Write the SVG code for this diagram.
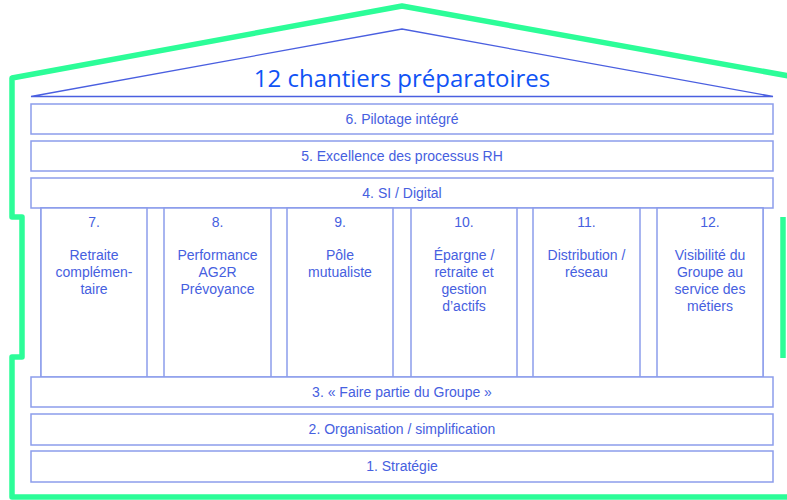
<svg xmlns="http://www.w3.org/2000/svg" width="787" height="500" viewBox="0 0 787 500">
<style>
.out{fill:none;stroke:#2CFD98;stroke-width:5.5;stroke-linejoin:round}
.roof{fill:none;stroke:#4A5FE0;stroke-width:1.3}
.bar{fill:#fff;stroke:#8C9DEB;stroke-width:1.5}
.t{font-family:"Liberation Sans",Arial,sans-serif;font-size:14px;fill:#4660E0;text-anchor:middle}
.title{font-family:"Open Sans","Noto Sans",sans-serif;font-size:24px;fill:#1053F5;text-anchor:middle}
</style>
<rect width="787" height="500" fill="#fff"/>
<g id="outline">
<path class="out" d="M800 78 L402 6 L12 78 L12 217 L22 217 L22 357 L12 357 L12 497 L800 497"/>
<path class="out" d="M783 217 L783 358"/>
</g>
<g id="roof">
<path class="roof" d="M31 96.5 L402 29 L773 96.5 Z"/>
<text class="title" x="402" y="87">12 chantiers préparatoires</text>
</g>
<g id="b6"><rect class="bar" x="31" y="104" width="742" height="30"/><text class="t" x="402" y="124">6. Pilotage  intégré</text></g>
<g id="b5"><rect class="bar" x="31" y="141" width="742" height="30"/><text class="t" x="402" y="161">5. Excellence des processus RH</text></g>
<g id="b4"><rect class="bar" x="31" y="178" width="742" height="30"/><text class="t" x="402" y="198">4. SI / Digital</text></g>
<g id="cols-frame"><rect class="bar" x="41" y="208" width="722" height="169"/></g>
<g id="c7"><rect class="bar" x="41" y="208" width="106" height="169"/>
<text class="t" x="94" y="227">7.</text>
<text class="t" x="94" y="260">Retraite</text><text class="t" x="94" y="277">complémen-</text><text class="t" x="94" y="294">taire</text></g>
<g id="c8"><rect class="bar" x="164" y="208" width="107" height="169"/>
<text class="t" x="217.5" y="227">8.</text>
<text class="t" x="217.5" y="260">Performance</text><text class="t" x="217.5" y="277">AG2R</text><text class="t" x="217.5" y="294">Prévoyance</text></g>
<g id="c9"><rect class="bar" x="287" y="208" width="106" height="169"/>
<text class="t" x="340" y="227">9.</text>
<text class="t" x="340" y="260">Pôle</text><text class="t" x="340" y="277">mutualiste</text></g>
<g id="c10"><rect class="bar" x="411" y="208" width="106" height="169"/>
<text class="t" x="464" y="227">10.</text>
<text class="t" x="464" y="260">Épargne /</text><text class="t" x="464" y="277">retraite et</text><text class="t" x="464" y="294">gestion</text><text class="t" x="464" y="311">d’actifs</text></g>
<g id="c11"><rect class="bar" x="533" y="208" width="107" height="169"/>
<text class="t" x="586.5" y="227">11.</text>
<text class="t" x="586.5" y="260">Distribution /</text><text class="t" x="586.5" y="277">réseau</text></g>
<g id="c12"><rect class="bar" x="657" y="208" width="106" height="169"/>
<text class="t" x="710" y="227">12.</text>
<text class="t" x="710" y="260">Visibilité  du</text><text class="t" x="710" y="277">Groupe au</text><text class="t" x="710" y="294">service des</text><text class="t" x="710" y="311">métiers</text></g>
<g id="b3"><rect class="bar" x="31" y="377" width="742" height="30"/><text class="t" x="402" y="397">3. « Faire partie du Groupe »</text></g>
<g id="b2"><rect class="bar" x="31" y="414" width="742" height="31"/><text class="t" x="402" y="434">2. Organisation / simplification</text></g>
<g id="b1"><rect class="bar" x="31" y="451" width="742" height="31"/><text class="t" x="402" y="471">1. Stratégie</text></g>
<g id="connectors"/>
</svg>
